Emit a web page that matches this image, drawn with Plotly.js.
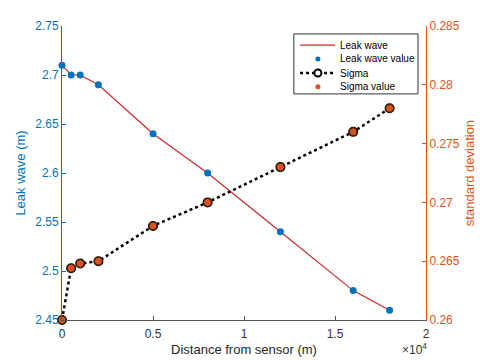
<!DOCTYPE html>
<html>
<head>
<meta charset="utf-8">
<script src="https://cdn.plot.ly/plotly-3.0.1.min.js"></script>
<style>html,body{margin:0;padding:0;background:#fff;}#chart{width:480px;height:360px;}</style>
</head>
<body>
<div id="chart"></div>
<script>
const distance = [0, 500, 1000, 2000, 5000, 8000, 12000, 16000, 18000];
const leakWave = [2.71, 2.70, 2.70, 2.69, 2.64, 2.60, 2.54, 2.48, 2.46];
const sigma = [0.260, 0.2644, 0.2648, 0.265, 0.268, 0.270, 0.273, 0.276, 0.278];
const xTickVals = [0, 5000, 10000, 15000, 20000];
const xTickText = ['0', '0.5', '1', '1.5', '2'];
const leftTicks = [2.45, 2.5, 2.55, 2.6, 2.65, 2.7, 2.75];
const leftTickText = ['2.45', '2.5', '2.55', '2.6', '2.65', '2.7', '2.75'];
const rightTicks = [0.26, 0.265, 0.27, 0.275, 0.28, 0.285];
const rightTickText = ['0.26', '0.265', '0.27', '0.275', '0.28', '0.285'];
const legendNames = ['Leak wave', 'Leak wave value', 'Sigma', 'Sigma value'];

const blue = '#0072BD';
const orange = '#D95319';
const red = '#C8282D';
const font = 'Liberation Sans, Arial, sans-serif';

const traces = [
  {x: distance, y: leakWave, type: 'scatter', mode: 'lines', name: legendNames[0],
   line: {color: red, width: 1.2}, yaxis: 'y', cliponaxis: false},
  {x: distance, y: leakWave, type: 'scatter', mode: 'markers', name: legendNames[1],
   marker: {color: blue, size: 7}, yaxis: 'y', cliponaxis: false},
  {x: distance, y: sigma, type: 'scatter', mode: 'lines+markers', name: legendNames[2],
   line: {color: '#000', width: 2.5, dash: 'dot'},
   marker: {symbol: 'circle-open', color: '#000', size: 8, line: {width: 2}},
   yaxis: 'y2', cliponaxis: false},
  {x: distance, y: sigma, type: 'scatter', mode: 'markers', name: legendNames[3],
   marker: {color: orange, size: 8, line: {color: '#3a1a0a', width: 1}},
   yaxis: 'y2', cliponaxis: false}
];

// Custom legend (paper coordinates)
const lgX0 = 0.637, lgX1 = 0.978, lgY0 = 0.769, lgY1 = 0.973;
const rowY = [0.935, 0.888, 0.840, 0.793];
const keyX0 = 0.654, keyX1 = 0.750, keyMid = 0.703, textX = 0.758;
const shapes = [
  {type: 'rect', xref: 'paper', yref: 'paper', x0: lgX0, x1: lgX1, y0: lgY0, y1: lgY1,
   fillcolor: '#fff', line: {color: '#333', width: 1}, layer: 'above'},
  {type: 'line', xref: 'paper', yref: 'paper', x0: keyX0, x1: keyX1, y0: rowY[0], y1: rowY[0],
   line: {color: red, width: 1.2}, layer: 'above'},
  {type: 'circle', xref: 'paper', yref: 'paper', xsizemode: 'pixel', ysizemode: 'pixel',
   xanchor: keyMid, yanchor: rowY[1], x0: -2.5, x1: 2.5, y0: -2.5, y1: 2.5,
   fillcolor: blue, line: {width: 0}, layer: 'above'},
  {type: 'line', xref: 'paper', yref: 'paper', x0: keyX0, x1: keyX1, y0: rowY[2], y1: rowY[2],
   line: {color: '#000', width: 2.5, dash: 'dot'}, layer: 'above'},
  {type: 'circle', xref: 'paper', yref: 'paper', xsizemode: 'pixel', ysizemode: 'pixel',
   xanchor: keyMid, yanchor: rowY[2], x0: -3.5, x1: 3.5, y0: -3.5, y1: 3.5,
   fillcolor: '#fff', line: {color: '#000', width: 2}, layer: 'above'},
  {type: 'circle', xref: 'paper', yref: 'paper', xsizemode: 'pixel', ysizemode: 'pixel',
   xanchor: keyMid, yanchor: rowY[3], x0: -2.5, x1: 2.5, y0: -2.5, y1: 2.5,
   fillcolor: orange, line: {width: 0}, layer: 'above'}
];
const annotations = legendNames.map((n, i) => ({
  xref: 'paper', yref: 'paper', x: textX, y: rowY[i], xanchor: 'left', yanchor: 'middle',
  text: n, showarrow: false, font: {size: 10, color: '#000'}
}));
annotations.push({xref: 'paper', yref: 'paper', x: 1.008, y: -0.066, xanchor: 'right', yanchor: 'top',
  text: '×10<sup>4</sup>', showarrow: false, font: {size: 12, color: '#333'}});

const layout = {
  width: 480, height: 360,
  margin: {l: 62, r: 54, t: 26, b: 40},
  paper_bgcolor: '#fff', plot_bgcolor: '#fff',
  font: {family: font, size: 12, color: '#262626'},
  showlegend: false,
  xaxis: {range: [0, 20000], tickvals: xTickVals, ticktext: xTickText,
    showgrid: false, zeroline: false, showline: true, linecolor: '#555', linewidth: 1,
    ticks: 'inside', ticklen: 4, tickcolor: '#555', tickfont: {size: 12, color: '#333'},
    ticklabelstandoff: 3,
    title: {text: 'Distance from sensor (m)', font: {size: 13, color: '#262626'}, standoff: 4}},
  yaxis: {range: [2.45, 2.75], tickvals: leftTicks, ticktext: leftTickText,
    showgrid: false, zeroline: false, showline: true, linecolor: blue, linewidth: 1,
    ticks: 'inside', ticklen: 4, tickcolor: blue, tickfont: {size: 12, color: blue},
    title: {text: 'Leak wave (m)', font: {size: 13, color: blue}, standoff: 6}},
  yaxis2: {range: [0.26, 0.285], tickvals: rightTicks, ticktext: rightTickText,
    overlaying: 'y', side: 'right',
    showgrid: false, zeroline: false, showline: true, linecolor: orange, linewidth: 1,
    ticks: 'inside', ticklen: 4, tickcolor: orange, tickfont: {size: 12, color: orange},
    title: {text: 'standard deviation', font: {size: 13, color: orange}, standoff: 6}},
  shapes: shapes,
  annotations: annotations
};

Plotly.newPlot('chart', traces, layout, {displayModeBar: false, staticPlot: true});
</script>
</body>
</html>
